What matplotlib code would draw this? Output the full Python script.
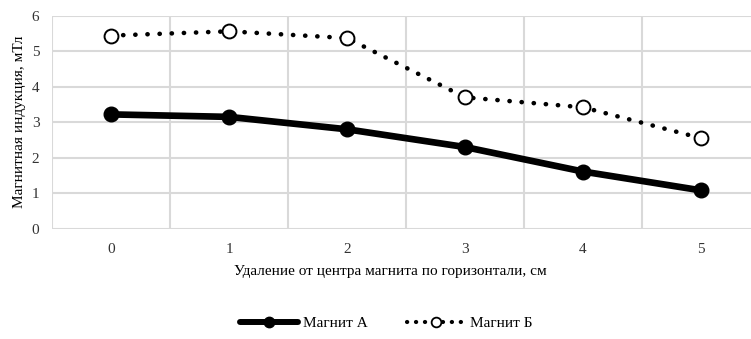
import matplotlib
matplotlib.use("Agg")
import matplotlib.pyplot as plt
from matplotlib.lines import Line2D

categories = ["0", "1", "2", "3", "4", "5"]
magnet_a = [3.22, 3.15, 2.80, 2.30, 1.61, 1.08]
magnet_b = [5.44, 5.56, 5.37, 3.70, 3.42, 2.55]
y_ticks = [0, 1, 2, 3, 4, 5, 6]
series_names = ['Магнит А', 'Магнит Б']

plt.rcParams['font.family'] = ['Liberation Serif', 'DejaVu Serif']
plt.rcParams['font.size'] = 11

fig = plt.figure(figsize=(7.51, 3.39), dpi=100)
ax = fig.add_axes([52/751, (339-228.7)/339, 708/751, 213/339])

x = list(range(len(categories)))
ax.plot(x, magnet_a, color='black', lw=4.8, marker='o', ms=10.5,
        mfc='black', mec='black', solid_capstyle='round', zorder=3)
ax.plot(x, magnet_b, color='black', lw=3.3, linestyle=(0, (0.05, 2.6)),
        dash_capstyle='round', marker='o', ms=10, mfc='white', mec='black',
        mew=1.4, zorder=4)

ax.set_xlim(-0.5, 5.5)
ax.set_ylim(0, 6)
ax.set_yticks(y_ticks)
ax.set_xticks(x)
ax.set_xticklabels(categories)
ax.set_xticks([i - 0.5 for i in range(7)], minor=True)
ax.grid(False)
ax.yaxis.grid(True, color='#d9d9d9', lw=1.5)
ax.xaxis.grid(True, which='minor', color='#d9d9d9', lw=1.5)
for s in ax.spines.values():
    s.set_visible(False)
ax.tick_params(axis='both', which='both', length=0, colors='#333333')
ax.tick_params(axis='x', pad=10)
ax.tick_params(axis='y', pad=9)
ax.set_axisbelow(True)

ax.set_ylabel('Магнитная индукция, мТл', labelpad=4)
fig.text(390/751, 1 - 271/339, 'Удаление от центра магнита по горизонтали, см',
         ha='center', va='center')

ha = Line2D([], [], color='black', lw=4.3, marker='o', ms=7.5, mfc='black',
            solid_capstyle='round')
hb = Line2D([], [], color='black', lw=3.0, linestyle=(0, (0.05, 2.1)),
            dash_capstyle='round', marker='o', ms=7, mfc='white', mec='black', mew=1.3)
leg = fig.legend(handles=[ha, hb], labels=series_names, loc='center',
                 bbox_to_anchor=(386/751, 1 - 323/339),
                 ncol=2, frameon=False, handlelength=3.8, columnspacing=2.6,
                 handletextpad=0.3)

fig.savefig('out.png', dpi=100)
